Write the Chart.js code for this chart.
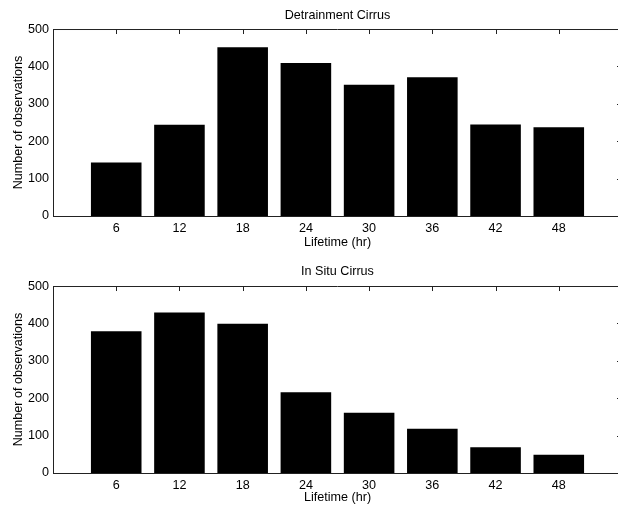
<!DOCTYPE html>
<html>
<head>
<meta charset="utf-8">
<script src="https://cdn.jsdelivr.net/npm/chart.js@4"></script>
<style>
  html, body { margin: 0; padding: 0; background: #fff; overflow: hidden; width: 618px; height: 505px; }
  .panel { position: absolute; left: 0; width: 627px; }
  #top { top: 0; height: 250px; }
  #bottom { top: 250px; height: 255px; }
</style>
</head>
<body>
<div class="panel" id="top"><canvas id="chart1"></canvas></div>
<div class="panel" id="bottom"><canvas id="chart2"></canvas></div>
<script>
// lifetime bins (hr) and counts
const lifetimes = [6, 12, 18, 24, 30, 36, 42, 48]
const detrainment = [143, 244, 451, 409, 351, 371, 245, 237]
const inSitu = [379, 429, 399, 216, 161, 118, 69, 49]
const yTicks = [0, 100, 200, 300, 400, 500]

Chart.defaults.font.family = "'Liberation Sans', Arial, sans-serif"
Chart.defaults.font.size = 12.6
Chart.defaults.color = '#000'

const ink = '#222'

// matlab style frame: top line plus inward ticks on top and right
const frameTicks = {
    id: 'frameTicks',
    afterDraw(chart) {
        const { ctx, chartArea: a, scales: { x, y } } = chart
        ctx.save()
        ctx.strokeStyle = ink
        ctx.lineWidth = 1
        ctx.beginPath()
        ctx.moveTo(a.left, a.top + 0.5)
        ctx.lineTo(a.right, a.top + 0.5)
        lifetimes.forEach(v => {
            const px = Math.round(x.getPixelForValue(v)) + 0.5
            ctx.moveTo(px, a.top)
            ctx.lineTo(px, a.top + 5)
        })
        yTicks.forEach(v => {
            const py = Math.round(y.getPixelForValue(v)) + 0.5
            ctx.moveTo(a.right - 5, py)
            ctx.lineTo(a.right, py)
        })
        ctx.stroke()
        ctx.restore()
    }
}

function histChart(id, title, values, titlePad, xHeight) {

    let data = {
        datasets: [{
            data: lifetimes.map((l, i) => ({ x: l, y: values[i] })),
            backgroundColor: '#000',
            borderWidth: 0,
            barPercentage: 0.8,
            categoryPercentage: 1
        }]
    }

    let options = {
        responsive: true,
        maintainAspectRatio: false,
        animation: false,
        layout: { padding: 0 },
        plugins: {
            legend: { display: false },
            tooltip: { enabled: false },
            title: {
                display: true,
                fullSize: false,
                text: title,
                color: '#000',
                font: { size: 12.6, weight: 'normal', lineHeight: 1.2 },
                padding: titlePad
            }
        },
        scales: {
            x: {
                type: 'linear',
                min: 0,
                max: 54,
                offset: false,
                grid: { display: false, drawTicks: false },
                border: { display: true, color: ink, width: 1 },
                ticks: {
                    stepSize: 6,
                    padding: 5,
                    maxRotation: 0,
                    autoSkip: false,
                    callback: v => lifetimes.includes(v) ? v : ''
                },
                title: { display: true, text: 'Lifetime (hr)', padding: 0 },
                afterFit: s => { s.height = xHeight }
            },
            y: {
                min: 0,
                max: 500,
                grid: { display: false, drawTicks: false },
                border: { display: true, color: ink, width: 1 },
                ticks: { stepSize: 100, padding: 4 },
                title: { display: true, text: 'Number of observations', padding: { top: 11, bottom: 0 } },
                afterFit: s => { s.width = 53 }
            }
        }
    }

    new Chart(id, { type: 'bar', data, options, plugins: [frameTicks] })
}

histChart('chart1', 'Detrainment Cirrus', detrainment, { top: 7.6, bottom: 6.3 }, 34)
histChart('chart2', 'In Situ Cirrus', inSitu, { top: 14.4, bottom: 6.5 }, 32)
</script>
</body>
</html>
